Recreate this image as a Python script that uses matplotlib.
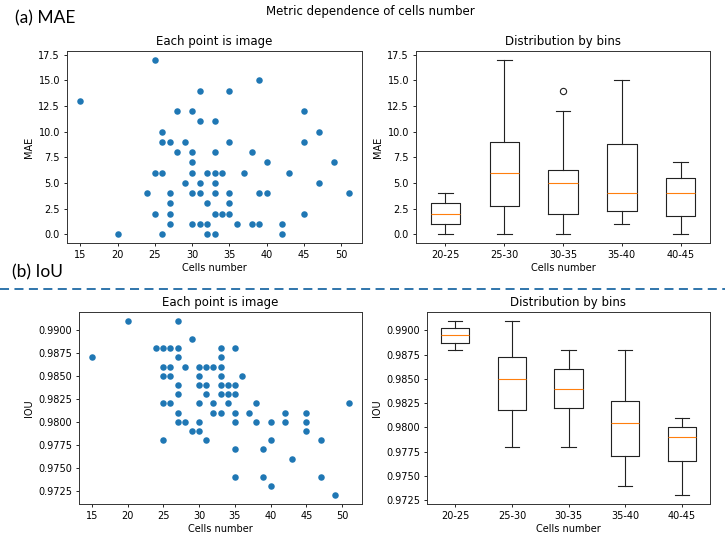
import matplotlib
matplotlib.use("Agg")
import matplotlib.pyplot as plt
from matplotlib.lines import Line2D

# ---- data ----
# MAE per image (scatter), grouped by row of equal MAE
mae_cells = [25, 15, 39, 31, 35, 28, 30, 45, 31, 33, 26, 47,
             26, 27, 29, 35, 45, 28, 30, 33, 38, 30, 40, 49,
             25, 26, 30, 32, 33, 34, 37, 43, 29, 31, 33, 47,
             24, 27, 30, 31, 33, 35, 39, 40, 51, 27, 32, 35,
             25, 27, 33, 34, 35, 45, 27, 30, 31, 32, 36, 38, 39, 42,
             20, 26, 32, 33, 42]
mae_values = [17, 13, 15, 14, 14, 12, 12, 12, 11, 11, 10, 10,
              9, 9, 9, 9, 9, 8, 8, 8, 8, 7, 7, 7,
              6, 6, 6, 6, 6, 6, 6, 6, 5, 5, 5, 5,
              4, 4, 4, 4, 4, 4, 4, 4, 4, 3, 3, 3,
              2, 2, 2, 2, 2, 2, 1, 1, 1, 1, 1, 1, 1, 1,
              0, 0, 0, 0, 0]

# IoU per image (scatter)
iou_cells = [20, 27, 29,
             24, 25, 26, 27, 33, 35,
             15, 27, 33,
             25, 26, 28, 30, 31, 32, 33,
             25, 26, 30, 33, 36,
             27, 30, 31, 33, 34, 35,
             27, 31, 33, 34, 35,
             25, 26, 30, 32, 34, 38, 51,
             27, 32, 33, 35, 37, 42, 45,
             27, 28, 30, 35, 38, 40, 42, 45,
             29, 30, 45,
             25, 31, 40, 47,
             35, 39,
             43,
             35, 39, 47,
             40,
             49]
iou_values = [0.9910, 0.9910, 0.9890,
              0.9880, 0.9880, 0.9880, 0.9880, 0.9880, 0.9880,
              0.9870, 0.9870, 0.9870,
              0.9860, 0.9860, 0.9860, 0.9860, 0.9860, 0.9860, 0.9860,
              0.9850, 0.9850, 0.9850, 0.9850, 0.9850,
              0.9840, 0.9840, 0.9840, 0.9840, 0.9840, 0.9840,
              0.9830, 0.9830, 0.9830, 0.9830, 0.9830,
              0.9820, 0.9820, 0.9820, 0.9820, 0.9820, 0.9820, 0.9820,
              0.9810, 0.9810, 0.9810, 0.9810, 0.9810, 0.9810, 0.9810,
              0.9800, 0.9800, 0.9800, 0.9800, 0.9800, 0.9800, 0.9800, 0.9800,
              0.9790, 0.9790, 0.9790,
              0.9780, 0.9780, 0.9780, 0.9780,
              0.9770, 0.9770,
              0.9760,
              0.9740, 0.9740, 0.9740,
              0.9730,
              0.9720]

# box statistics per bin of cells number
bins = ["20-25", "25-30", "30-35", "35-40", "40-45"]

mae_whislo = [0, 0, 0, 1, 0]
mae_q1 = [1, 2.75, 2, 2.25, 1.75]
mae_med = [2, 6, 5, 4, 4]
mae_q3 = [3, 9, 6.25, 8.75, 5.5]
mae_whishi = [4, 17, 12, 15, 7]
mae_fliers = [[], [], [14], [], []]

iou_whislo = [0.9880, 0.9780, 0.9780, 0.9740, 0.9730]
iou_q1 = [0.98875, 0.98175, 0.9820, 0.9770, 0.9765]
iou_med = [0.9895, 0.9850, 0.9840, 0.9805, 0.9790]
iou_q3 = [0.99025, 0.98725, 0.9860, 0.98275, 0.9800]
iou_whishi = [0.9910, 0.9910, 0.9880, 0.9880, 0.9810]
iou_fliers = [[], [], [], [], []]

# ---- style ----
plt.rcParams["font.family"] = "DejaVu Sans"
plt.rcParams["font.size"] = 7
plt.rcParams["axes.linewidth"] = 0.7
plt.rcParams["axes.edgecolor"] = "#333333"
plt.rcParams["xtick.major.size"] = 2.5
plt.rcParams["ytick.major.size"] = 2.5
plt.rcParams["xtick.major.width"] = 0.6
plt.rcParams["ytick.major.width"] = 0.6
plt.rcParams["xtick.labelsize"] = 7
plt.rcParams["ytick.labelsize"] = 7
plt.rcParams["xtick.major.pad"] = 2.5
plt.rcParams["ytick.major.pad"] = 2.5

W, H = 725, 543
fig = plt.figure(figsize=(W / 100, H / 100), dpi=100)


def rect(left, top, right, bottom):
    """Pixel box -> figure fraction rect."""
    return [left / W, 1 - bottom / H, (right - left) / W, (bottom - top) / H]


def make_stats(whislo, q1, med, q3, whishi, fliers):
    stats = []
    for i in range(len(bins)):
        stats.append({"whislo": whislo[i], "q1": q1[i], "med": med[i],
                      "q3": q3[i], "whishi": whishi[i], "fliers": fliers[i],
                      "label": bins[i]})
    return stats


def scatter_panel(ax, x, y, ylabel):
    ax.scatter(x, y, s=22, color="#1f77b4", linewidths=0)
    ax.set_title("Each point is image", fontsize=8.5, pad=4)
    ax.set_xlabel("Cells number", fontsize=7, labelpad=2.5)
    ax.set_ylabel(ylabel, fontsize=7, labelpad=3)
    ax.set_xticks([15, 20, 25, 30, 35, 40, 45, 50])


def box_panel(ax, stats, ylabel):
    line = {"linewidth": 0.8, "color": "#222222"}
    ax.bxp(stats, widths=0.5, boxprops=line, whiskerprops=line, capprops=line,
           medianprops={"linewidth": 0.8, "color": "#ff7f0e"},
           flierprops={"marker": "o", "markersize": 4.5, "markerfacecolor": "none",
                       "markeredgecolor": "#222222", "markeredgewidth": 0.8})
    ax.set_title("Distribution by bins", fontsize=8.5, pad=4)
    ax.set_xlabel("Cells number", fontsize=7, labelpad=2.5)
    ax.set_ylabel(ylabel, fontsize=7, labelpad=3)


ax1 = fig.add_axes(rect(67, 51, 362, 243))
ax2 = fig.add_axes(rect(416, 51, 710, 243))
ax3 = fig.add_axes(rect(79, 312, 362, 504))
ax4 = fig.add_axes(rect(427, 312, 710, 504))

scatter_panel(ax1, mae_cells, mae_values, "MAE")
box_panel(ax2, make_stats(mae_whislo, mae_q1, mae_med, mae_q3, mae_whishi, mae_fliers), "MAE")
scatter_panel(ax3, iou_cells, iou_values, "IOU")
box_panel(ax4, make_stats(iou_whislo, iou_q1, iou_med, iou_q3, iou_whishi, iou_fliers), "IOU")

for ax in (ax3, ax4):
    ax.yaxis.set_major_formatter(matplotlib.ticker.FormatStrFormatter("%.4f"))

# figure-level texts
fig.text(370 / W, 1 - 12 / H, "Metric dependence of cells number", fontsize=8.5,
         ha="center", va="center")
fig.text(15 / W, 1 - 18 / H, "(a) MAE", fontsize=12.5, family="Lato",
         ha="left", va="center")
fig.text(12 / W, 1 - 272 / H, "(b) IoU", fontsize=12.5, family="Lato",
         ha="left", va="center")

# dashed separator between the two rows
sep_y = 1 - 289 / H
fig.add_artist(Line2D([0, 1], [sep_y, sep_y], transform=fig.transFigure,
                      linestyle="--", dashes=(5, 3), linewidth=1.3, color="#1f6aa5"))

fig.savefig("out.png", dpi=100)
